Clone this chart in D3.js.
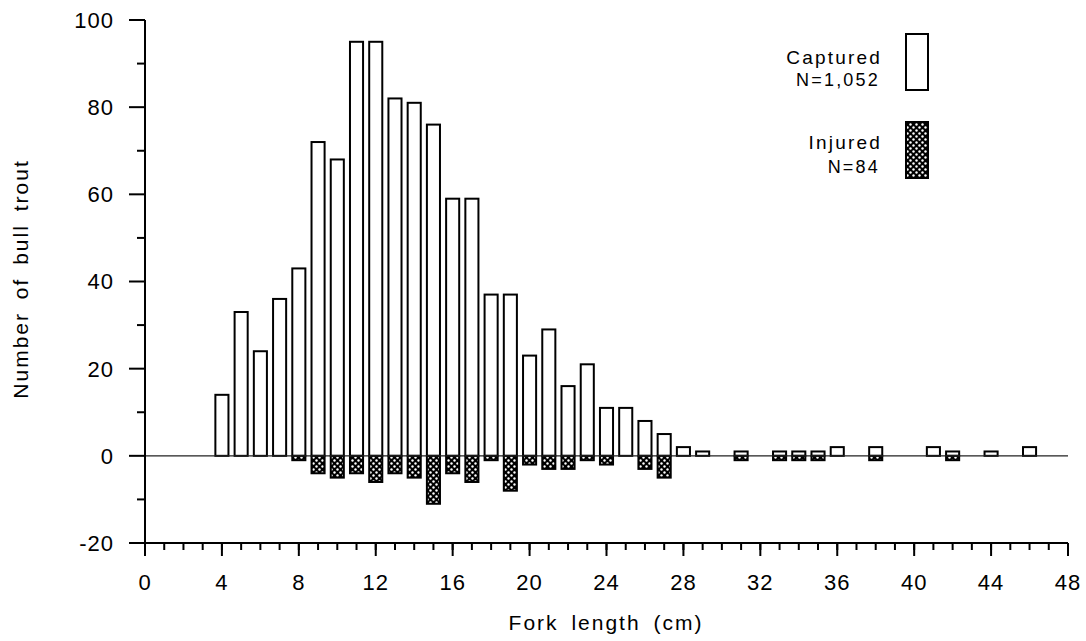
<!DOCTYPE html>
<html lang="en">
<head>
  <meta charset="UTF-8" />
  <title>Bull trout fork length</title>
  <script src="https://d3js.org/d3.v7.min.js"></script>
  <style>
    body { margin: 0; background: #fff; }
    text { font-family: Arial, "Liberation Sans", sans-serif; fill: #000; }
  </style>
</head>
<body>
  <div id="chart"></div>
  <script>
    // captured fish per fork length (cm)
    var capturedLen = [4, 5, 6, 7, 8, 9, 10, 11, 12, 13, 14, 15, 16, 17, 18, 19, 20, 21, 22, 23, 24, 25, 26, 27, 28, 29, 31, 33, 34, 35, 36, 38, 41, 42, 44, 46];
    var capturedN = [14, 33, 24, 36, 43, 72, 68, 95, 95, 82, 81, 76, 59, 59, 37, 37, 23, 29, 16, 21, 11, 11, 8, 5, 2, 1, 1, 1, 1, 1, 2, 2, 2, 1, 1, 2];
    // injured fish (drawn below zero)
    var injuredLen = [8, 9, 10, 11, 12, 13, 14, 15, 16, 17, 18, 19, 20, 21, 22, 23, 24, 26, 27, 31, 33, 34, 35, 38, 42];
    var injuredN = [1, 4, 5, 4, 6, 4, 5, 11, 4, 6, 1, 8, 2, 3, 3, 1, 2, 3, 5, 1, 1, 1, 1, 1, 1];
    var yTicks = [-20, 0, 20, 40, 60, 80, 100];
    var xTicks = [0, 4, 8, 12, 16, 20, 24, 28, 32, 36, 40, 44, 48];

    var w = 1086, h = 641;
    var svg = d3.select("#chart").append("svg")
      .attr("width", w)
      .attr("height", h);

    var x = d3.scaleLinear().domain([0, 48]).range([145, 1068]);
    var y = d3.scaleLinear().domain([-20, 100]).range([543, 20]);
    var bw = x(0.68) - x(0);

    // crosshatch pattern
    var pat = svg.append("defs").append("pattern")
      .attr("id", "hatch")
      .attr("patternUnits", "userSpaceOnUse")
      .attr("width", 6)
      .attr("height", 6);
    pat.append("rect").attr("width", 6).attr("height", 6).attr("fill", "#000");
    pat.append("circle").attr("cx", 1.5).attr("cy", 1.5).attr("r", 1.2).attr("fill", "#fff");
    pat.append("circle").attr("cx", 4.5).attr("cy", 4.5).attr("r", 1.2).attr("fill", "#fff");

    var captured = capturedLen.map(function(d, i) { return { len: d, n: capturedN[i] }; });
    var injured = injuredLen.map(function(d, i) { return { len: d, n: injuredN[i] }; });

    svg.selectAll("rect.cap")
      .data(captured)
      .enter()
      .append("rect")
      .attr("class", "cap")
      .attr("x", function(d) { return x(d.len) - bw / 2; })
      .attr("y", function(d) { return y(d.n); })
      .attr("width", bw)
      .attr("height", function(d) { return y(0) - y(d.n); })
      .attr("fill", "#fff")
      .attr("stroke", "#000")
      .attr("stroke-width", 2);

    svg.selectAll("rect.inj")
      .data(injured)
      .enter()
      .append("rect")
      .attr("class", "inj")
      .attr("x", function(d) { return x(d.len) - bw / 2; })
      .attr("y", y(0))
      .attr("width", bw)
      .attr("height", function(d) { return y(-d.n) - y(0); })
      .attr("fill", "url(#hatch)")
      .attr("stroke", "#000")
      .attr("stroke-width", 2);

    // zero line
    svg.append("line")
      .attr("x1", x(0)).attr("x2", x(48))
      .attr("y1", y(0)).attr("y2", y(0))
      .attr("stroke", "#222")
      .attr("stroke-width", 1.2);

    // y axis
    var yAxis = svg.append("g");
    yAxis.append("line")
      .attr("x1", x(0)).attr("x2", x(0))
      .attr("y1", y(100)).attr("y2", y(-20))
      .attr("stroke", "#000").attr("stroke-width", 2);
    yAxis.selectAll("line.minor")
      .data(d3.range(-10, 100, 20))
      .enter().append("line")
      .attr("x1", x(0) - 8).attr("x2", x(0))
      .attr("y1", function(d) { return y(d); })
      .attr("y2", function(d) { return y(d); })
      .attr("stroke", "#000").attr("stroke-width", 2);
    yAxis.selectAll("line.major")
      .data(yTicks)
      .enter().append("line")
      .attr("x1", x(0) - 16).attr("x2", x(0))
      .attr("y1", function(d) { return y(d); })
      .attr("y2", function(d) { return y(d); })
      .attr("stroke", "#000").attr("stroke-width", 2);
    yAxis.selectAll("text")
      .data(yTicks)
      .enter().append("text")
      .attr("x", 114)
      .attr("y", function(d) { return y(d); })
      .attr("dy", "0.36em")
      .attr("text-anchor", "end")
      .style("font-size", "22px")
      .style("letter-spacing", "1px")
      .text(function(d) { return d; });

    // x axis
    var xAxis = svg.append("g");
    xAxis.append("line")
      .attr("x1", x(0)).attr("x2", x(48))
      .attr("y1", y(-20)).attr("y2", y(-20))
      .attr("stroke", "#000").attr("stroke-width", 2);
    xAxis.selectAll("line.minor")
      .data(d3.range(1, 48))
      .enter().append("line")
      .attr("x1", function(d) { return x(d); })
      .attr("x2", function(d) { return x(d); })
      .attr("y1", y(-20)).attr("y2", y(-20) + 7)
      .attr("stroke", "#000").attr("stroke-width", 2);
    xAxis.selectAll("line.major")
      .data(xTicks)
      .enter().append("line")
      .attr("x1", function(d) { return x(d); })
      .attr("x2", function(d) { return x(d); })
      .attr("y1", y(-20)).attr("y2", y(-20) + 13)
      .attr("stroke", "#000").attr("stroke-width", 2);
    xAxis.selectAll("text")
      .data(xTicks)
      .enter().append("text")
      .attr("x", function(d) { return x(d); })
      .attr("y", 590)
      .attr("text-anchor", "middle")
      .style("font-size", "22px")
      .style("letter-spacing", "1px")
      .text(function(d) { return d; });

    // axis titles
    svg.append("text")
      .attr("x", 606)
      .attr("y", 630)
      .attr("text-anchor", "middle")
      .style("font-size", "21px")
      .style("letter-spacing", "2px")
      .style("word-spacing", "5px")
      .text("Fork length (cm)");
    svg.append("text")
      .attr("transform", "translate(28,279) rotate(-90)")
      .attr("text-anchor", "middle")
      .style("font-size", "21px")
      .style("letter-spacing", "2px")
      .style("word-spacing", "5px")
      .text("Number of bull trout");

    // legend
    var legend = svg.append("g");
    legend.append("rect")
      .attr("x", 906).attr("y", 34).attr("width", 22).attr("height", 56)
      .attr("fill", "#fff").attr("stroke", "#000").attr("stroke-width", 2);
    legend.append("rect")
      .attr("x", 906).attr("y", 122).attr("width", 22).attr("height", 56)
      .attr("fill", "url(#hatch)").attr("stroke", "#000").attr("stroke-width", 2);
    legend.append("text").attr("x", 882).attr("y", 64).attr("text-anchor", "end")
      .style("font-size", "19px").style("letter-spacing", "2.2px").text("Captured");
    legend.append("text").attr("x", 880).attr("y", 86).attr("text-anchor", "end")
      .style("font-size", "18px").style("letter-spacing", "2.2px").text("N=1,052");
    legend.append("text").attr("x", 882).attr("y", 149).attr("text-anchor", "end")
      .style("font-size", "19px").style("letter-spacing", "2.2px").text("Injured");
    legend.append("text").attr("x", 880).attr("y", 173).attr("text-anchor", "end")
      .style("font-size", "18px").style("letter-spacing", "2.2px").text("N=84");
  </script>
</body>
</html>
